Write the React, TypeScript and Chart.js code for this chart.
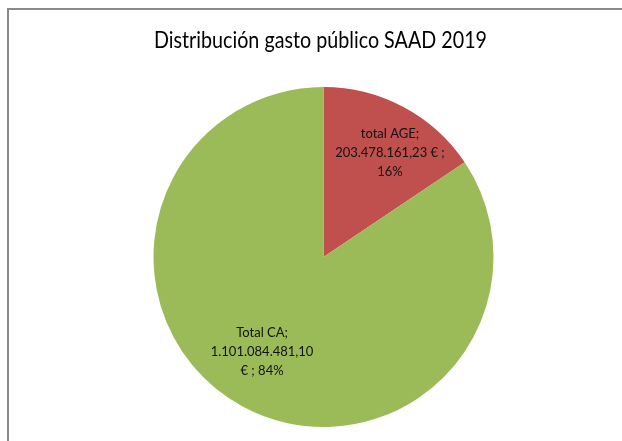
import React, { useEffect, useRef } from "react";
import { Chart, registerables } from "chart.js";

Chart.register(...registerables);

const TITLE = "Distribución gasto público SAAD 2019";
const categories = ["total AGE", "Total CA"];
const values = [203478161.23, 1101084481.1];
const colors = ["#C0504D", "#9BBB59"];

function formatEs(v: number): string {
  const fixed = v.toFixed(2);
  const [intPart, dec] = fixed.split(".");
  const withDots = intPart.replace(/\B(?=(\d{3})+(?!\d))/g, ".");
  return `${withDots},${dec}`;
}

const labelStyle = {
  font: "13px Lato",
  color: "#111111",
  lineHeight: 19,
  wrapWidth: 111.8,
  radiusFrac: [0.726, 0.666],
  angleOffsetDeg: [4.5, 4.8],
};

function wrapWords(ctx: CanvasRenderingContext2D, text: string, maxW: number): string[] {
  const words = text.split(" ");
  const lines: string[] = [];
  let cur = "";
  for (const w of words) {
    const test = cur ? cur + " " + w : w;
    if (cur && ctx.measureText(test).width > maxW) {
      lines.push(cur);
      cur = w;
    } else {
      cur = test;
    }
  }
  if (cur) lines.push(cur);
  return lines;
}

const sliceLabels = {
  id: "sliceLabels",
  afterDatasetsDraw(chart: any) {
    const ctx: CanvasRenderingContext2D = chart.ctx;
    const meta = chart.getDatasetMeta(0);
    const data: number[] = chart.data.datasets[0].data;
    const total = data.reduce((a, b) => a + b, 0);
    ctx.save();
    ctx.font = labelStyle.font;
    ctx.fillStyle = labelStyle.color;
    ctx.textAlign = "center";
    ctx.textBaseline = "middle";
    meta.data.forEach((arc: any, i: number) => {
      const p = arc.getProps(["x", "y", "startAngle", "endAngle", "outerRadius"], true);
      const mid = (p.startAngle + p.endAngle) / 2 + (labelStyle.angleOffsetDeg[i] * Math.PI) / 180;
      const r = p.outerRadius * labelStyle.radiusFrac[i];
      const cx = p.x + Math.cos(mid) * r;
      const cy = p.y + Math.sin(mid) * r;
      const pct = Math.round((data[i] / total) * 100) + "%";
      const rest = `${formatEs(data[i])} € ; ${pct}`;
      const lines = [`${chart.data.labels[i]};`, ...wrapWords(ctx, rest, labelStyle.wrapWidth)];
      const h = labelStyle.lineHeight;
      const y0 = cy - ((lines.length - 1) * h) / 2;
      lines.forEach((ln, k) => {
        ctx.fillText(ln, cx, y0 + k * h);
      });
    });
    ctx.restore();
  },
};

const titlePlugin = {
  id: "customTitle",
  afterDraw(chart: any) {
    const ctx: CanvasRenderingContext2D = chart.ctx;
    ctx.save();
    ctx.font = "23px Lato";
    ctx.fillStyle = "#000000";
    ctx.textAlign = "center";
    ctx.textBaseline = "alphabetic";
    ctx.fillText(TITLE, 320.5, 48, 333);
    ctx.restore();
  },
};

export default function App() {
  const ref = useRef<HTMLCanvasElement | null>(null);
  useEffect(() => {
    if (!ref.current) return;
    const chart = new Chart(ref.current, {
      type: "pie",
      data: {
        labels: categories,
        datasets: [
          {
            data: values,
            backgroundColor: colors,
            borderWidth: 0,
          },
        ],
      },
      options: {
        responsive: false,
        animation: false,
        layout: { padding: { top: 87, bottom: 14, left: 25, right: 0 } },
        plugins: {
          legend: { display: false },
          tooltip: { enabled: false },
          title: { display: false },
        },
      },
      plugins: [sliceLabels, titlePlugin],
    });
    return () => chart.destroy();
  }, []);

  return (
    <div
      style={{
        position: "fixed",
        left: 0,
        top: 0,
        width: 622,
        height: 441,
        overflow: "hidden",
        background: "#ffffff",
      }}
    >
      <div
        style={{
          position: "absolute",
          left: 7,
          top: 8,
          width: 700,
          height: 500,
          borderLeft: "2px solid #8a8a8a",
          borderTop: "2px solid #8a8a8a",
          boxSizing: "border-box",
        }}
      />
      <canvas
        ref={ref}
        width={622}
        height={441}
        style={{ position: "absolute", left: 0, top: 0, width: 622, height: 441 }}
      />
    </div>
  );
}
